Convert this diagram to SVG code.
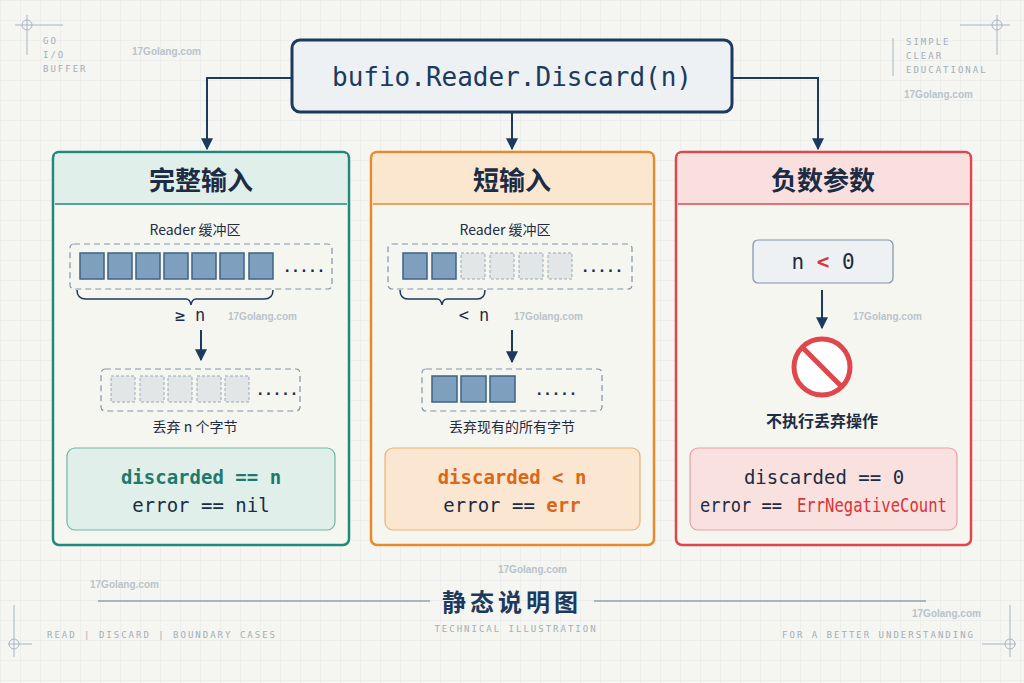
<svg xmlns="http://www.w3.org/2000/svg" width="1024" height="683" viewBox="0 0 1024 683">
<defs>
<pattern id="grid" width="20" height="20" patternUnits="userSpaceOnUse"><path d="M20 0H0V20" fill="none" stroke="#e6e8e6" stroke-width="1"/></pattern>
<marker id="ah" viewBox="0 0 10 10" refX="9" refY="5" markerWidth="6" markerHeight="6" orient="auto"><path d="M0 0L10 5L0 10z" fill="#1c3a5e"/></marker>
<style>
.t{font-family:"Noto Sans CJK SC","Noto Sans",sans-serif;fill:#1c2c44;text-anchor:middle}
.m{font-family:"DejaVu Sans Mono","Liberation Mono",monospace;fill:#1c2c44;text-anchor:middle}
.h{font-size:26px;font-weight:bold}
.cap{font-size:14px}
.cell{fill:#7f9fbf;stroke:#3f6285;stroke-width:1.5}
.ecell{fill:#e3e6e6;stroke:#9aa9b8;stroke-width:1;stroke-dasharray:3 2}
.dbox{fill:none;stroke:#7f93aa;stroke-width:1.2;stroke-dasharray:6 4}
.con{fill:none;stroke:#1c3a5e;stroke-width:2;marker-end:url(#ah)}
.deco{font-family:"DejaVu Sans Mono",monospace;font-size:9px;fill:#a3adb8;letter-spacing:2px}
.wm{font-family:"Liberation Sans",sans-serif;font-size:10px;fill:#b8c3cc;font-weight:bold}
</style>
</defs>
<rect width="1024" height="683" fill="#f5f5f1"/>
<rect width="1024" height="683" fill="url(#grid)"/>
<g stroke="#a8b6c4" stroke-width="1" fill="none">
<path d="M27 15V55M15 25H63"/><circle cx="27" cy="25" r="5"/>
<path d="M997 15V55M960 25H1010"/><circle cx="997" cy="25" r="5"/>
<path d="M14 605V657M8 644H32"/><circle cx="14" cy="644" r="5"/>
<path d="M1010 605V657M982 644H1016"/><circle cx="1010" cy="644" r="5"/>
<path d="M893 38V76"/>
</g>
<text class="deco" x="43" y="44">GO</text><text class="deco" x="43" y="58">I/O</text><text class="deco" x="43" y="72">BUFFER</text>
<text class="deco" x="906" y="45">SIMPLE</text><text class="deco" x="906" y="59">CLEAR</text><text class="deco" x="906" y="73">EDUCATIONAL</text>
<g id="root">
<rect x="292" y="40" width="440" height="72" rx="8" fill="#eef1f3" stroke="#1c3a5e" stroke-width="3"/>
<text class="m" x="512" y="86" font-size="26" style="fill:#1c3a5e">bufio.Reader.Discard(n)</text>
</g>
<g id="full">
<rect x="53" y="152" width="296" height="393" rx="6" fill="#f6f6f1" stroke="#1f8a7c" stroke-width="2.5"/>
<path d="M55 154H347V204H55Z" fill="#e1efea"/><path d="M55 204H347" stroke="#1f8a7c" stroke-width="1.5"/>
<text class="t h" x="201" y="190">完整输入</text>
<text class="t cap" x="195" y="235">Reader 缓冲区</text>
<rect class="dbox" x="70" y="244" width="262" height="45" rx="4"/>
<rect class="cell" x="80" y="253" width="24" height="26"/><rect class="cell" x="108" y="253" width="24" height="26"/><rect class="cell" x="136" y="253" width="24" height="26"/><rect class="cell" x="164" y="253" width="24" height="26"/><rect class="cell" x="192" y="253" width="24" height="26"/><rect class="cell" x="220" y="253" width="24" height="26"/><rect class="cell" x="249" y="253" width="24" height="26"/>
<text class="m" x="304" y="272" font-size="14" font-weight="bold">.....</text>
<path d="M77 290Q77 299 86 299H186Q190 299 191 305Q192 299 196 299H264Q273 299 273 290" fill="none" stroke="#1c3a5e" stroke-width="1.5"/>
<text class="m" x="190" y="321" font-size="17">≥ n</text>
<rect class="dbox" x="101" y="369" width="199" height="42" rx="4"/>
<rect class="ecell" x="111" y="376" width="24" height="26"/><rect class="ecell" x="140" y="376" width="24" height="26"/><rect class="ecell" x="168" y="376" width="24" height="26"/><rect class="ecell" x="197" y="376" width="24" height="26"/><rect class="ecell" x="225" y="376" width="24" height="26"/>
<text class="m" x="277" y="395" font-size="14" font-weight="bold">.....</text>
<text class="t cap" x="195" y="432">丢弃 n 个字节</text>
<rect x="67" y="448" width="268" height="82" rx="8" fill="#e0efe9" stroke="#6fb7a8" stroke-width="1.2"/>
<text class="m" x="201" y="484" font-size="19" font-weight="bold" style="fill:#1f7a6c">discarded == n</text>
<text class="m" x="201" y="512" font-size="19">error == nil</text>
</g>
<g id="short">
<rect x="371" y="152" width="283" height="393" rx="6" fill="#f6f6f1" stroke="#e88a2a" stroke-width="2.5"/>
<path d="M373 154H652V204H373Z" fill="#fbe7cf"/><path d="M373 204H652" stroke="#e88a2a" stroke-width="1.5"/>
<text class="t h" x="512" y="190">短输入</text>
<text class="t cap" x="505" y="235">Reader 缓冲区</text>
<rect class="dbox" x="388" y="244" width="244" height="45" rx="4"/>
<rect class="cell" x="403" y="253" width="24" height="26"/><rect class="cell" x="432" y="253" width="24" height="26"/><rect class="ecell" x="461" y="253" width="24" height="26"/><rect class="ecell" x="490" y="253" width="24" height="26"/><rect class="ecell" x="519" y="253" width="24" height="26"/><rect class="ecell" x="548" y="253" width="24" height="26"/>
<text class="m" x="602" y="272" font-size="14" font-weight="bold">.....</text>
<path d="M400 290Q400 299 408 299H437Q441 299 442 305Q443 299 447 299H477Q485 299 485 290" fill="none" stroke="#1c3a5e" stroke-width="1.5"/>
<text class="m" x="474" y="321" font-size="17">&lt; n</text>
<rect class="dbox" x="422" y="369" width="180" height="42" rx="4"/>
<rect class="cell" x="432" y="376" width="25" height="26"/><rect class="cell" x="461" y="376" width="25" height="26"/><rect class="cell" x="490" y="376" width="25" height="26"/>
<text class="m" x="556" y="395" font-size="14" font-weight="bold">.....</text>
<text class="t cap" x="512" y="432">丢弃现有的所有字节</text>
<rect x="385" y="448" width="255" height="82" rx="8" fill="#fbe7d1" stroke="#efb070" stroke-width="1.2"/>
<text class="m" x="512" y="484" font-size="19" font-weight="bold" style="fill:#d9681a">discarded &lt; n</text>
<text class="m" x="512" y="512" font-size="19">error == <tspan style="fill:#d9681a" font-weight="bold">err</tspan></text>
</g>
<g id="negative">
<rect x="676" y="152" width="295" height="393" rx="6" fill="#f6f6f1" stroke="#e0474c" stroke-width="2.5"/>
<path d="M678 154H969V204H678Z" fill="#f9e0df"/><path d="M678 204H969" stroke="#e0474c" stroke-width="1.5"/>
<text class="t h" x="823" y="190">负数参数</text>
<rect x="753" y="240" width="140" height="43" rx="5" fill="#eef1f3" stroke="#7f93aa" stroke-width="1.2"/>
<text class="m" x="823" y="269" font-size="21">n <tspan style="fill:#d8343a" font-weight="bold">&lt;</tspan> 0</text>
<circle cx="822" cy="367" r="28" fill="#fff" stroke="#e0474c" stroke-width="5"/>
<path d="M802 347L842 387" stroke="#e0474c" stroke-width="5"/>
<text class="t" x="822" y="427" font-size="16" font-weight="bold">不执行丢弃操作</text>
<rect x="690" y="448" width="267" height="82" rx="8" fill="#f9e1df" stroke="#eba09f" stroke-width="1.2"/>
<text class="m" x="824" y="484" font-size="19">discarded == 0</text>
<text class="m" x="700" y="512" font-size="19" style="text-anchor:start" textLength="82" lengthAdjust="spacingAndGlyphs">error ==</text>
<text class="m" x="797" y="512" font-size="19" style="text-anchor:start;fill:#d8343a" textLength="150" lengthAdjust="spacingAndGlyphs">ErrNegativeCount</text>
</g>
<g id="connectors">
<path class="con" d="M292 78H207V149"/>
<path class="con" d="M512 112V149"/>
<path class="con" d="M732 78H818V149"/>
<path class="con" d="M201 330V360"/>
<path class="con" d="M512 330V362"/>
<path class="con" d="M822 290V328"/>
</g>
<g class="wm"><text x="132" y="55">17Golang.com</text><text x="904" y="98">17Golang.com</text><text x="228" y="320">17Golang.com</text><text x="514" y="320">17Golang.com</text><text x="853" y="320">17Golang.com</text><text x="90" y="588">17Golang.com</text><text x="498" y="573">17Golang.com</text><text x="912" y="617">17Golang.com</text></g>
<g id="footer">
<path d="M98 601H430M594 601H926" stroke="#8aa1b6" stroke-width="1.5"/>
<text class="t" x="512" y="611" font-size="24" font-weight="bold" style="fill:#1c3a5e" letter-spacing="4">静态说明图</text>
<text class="deco" x="516" y="632" style="text-anchor:middle">TECHNICAL ILLUSTRATION</text>
<text class="deco" x="47" y="638">READ  |  DISCARD  |  BOUNDARY CASES</text>
<text class="deco" x="975" y="638" style="text-anchor:end">FOR A BETTER UNDERSTANDING</text>
</g>
</svg>
